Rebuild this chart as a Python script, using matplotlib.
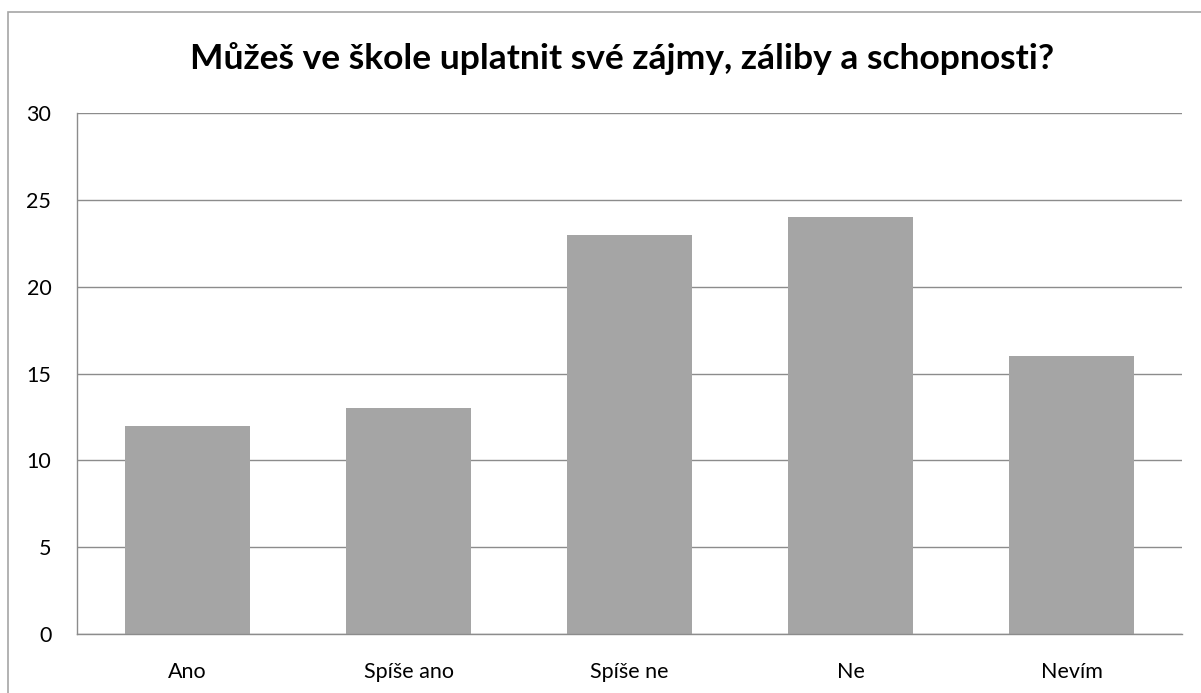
import numpy as np
import matplotlib.pyplot as plt
from matplotlib.patches import Rectangle

categories = ["Ano", "Spíše ano", "Spíše ne", "Ne", "Nevím"]
values = [12, 13, 23, 24, 16]
yticks = [0, 5, 10, 15, 20, 25, 30]

plt.rcParams['font.family'] = ['Lato', 'DejaVu Sans']

fig = plt.figure(figsize=(12.01, 6.93), dpi=100)
ax = fig.add_axes([77/1201, 1 - 634/693, (1182 - 77)/1201, (634 - 113)/693])

# rámeček grafu
fig.patches.append(Rectangle((8/1201, -0.1), 1.2, 1 - 12.5/693 + 0.1,
                             transform=fig.transFigure, fill=False,
                             edgecolor='#a6a6a6', linewidth=1.2))

x = np.arange(len(categories))
ax.bar(x, values, width=0.566, color='#a5a5a5', zorder=2)

ax.set_xlim(-0.5, len(categories) - 0.5)
ax.set_ylim(0, 30)
ax.set_yticks(yticks)
ax.set_xticks(x)
ax.set_xticklabels(categories)
ax.yaxis.grid(True, color='#8c8c8c', linewidth=1.0, zorder=0)
ax.set_axisbelow(True)

for s in ['top', 'right']:
    ax.spines[s].set_visible(False)
for s in ['left', 'bottom']:
    ax.spines[s].set_color('#8c8c8c')
    ax.spines[s].set_linewidth(1.0)

ax.tick_params(axis='both', length=0, labelsize=15.5, colors='black')
ax.tick_params(axis='y', pad=18.5)
ax.tick_params(axis='x', pad=20)

fig.text(622/1201, 1 - 59/693, "Můžeš ve škole uplatnit své zájmy, záliby a schopnosti?",
         ha='center', va='center', fontsize=25.5, fontweight='bold')

fig.savefig("out.png", dpi=100)
